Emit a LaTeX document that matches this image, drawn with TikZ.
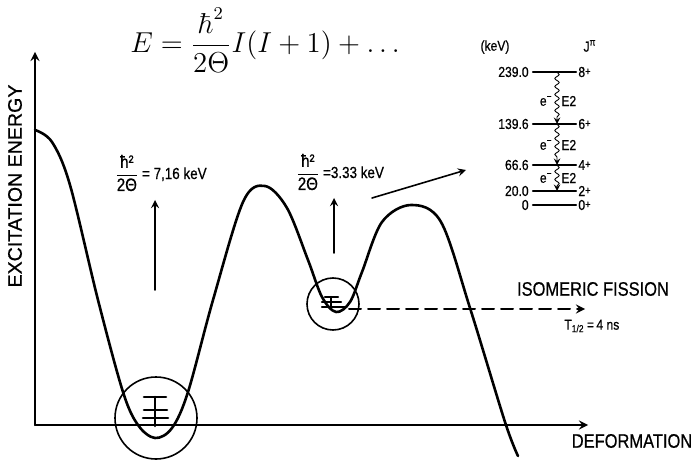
\documentclass[tikz,border=0pt]{standalone}
\usepackage{amsmath}
\usepackage{fontspec}
\newfontfamily\lettering[FakeStretch=0.84,FakeBold=0.6]{Liberation Sans}
\newfontfamily\letteringwide[FakeBold=0.6]{Liberation Sans}
\usetikzlibrary{decorations.pathmorphing}
\newcommand\plusup{\raisebox{0.9pt}{\fontsize{5.6}{6}\selectfont+}}

\begin{document}
\begin{tikzpicture}[x=0.5pt,y=-0.5pt,line cap=round,line join=round,>=stealth,
  every node/.style={inner sep=1pt},
  axislbl/.style={font=\lettering\fontsize{9.8}{11}\selectfont},
  keylbl/.style={font=\lettering\fontsize{8}{9}\selectfont},
  lvllbl/.style={font=\lettering\fontsize{7.2}{8}\selectfont,inner sep=0pt},
  wavy/.style={->,line width=0.45pt,decorate,decoration={snake,amplitude=1.1pt,segment length=4pt,post length=2.5pt}}]
  \useasboundingbox (0,0) rectangle (697,460);
  \def\lw{0.8pt}
  % axes
  \coordinate (O) at (35,425);
  \coordinate (ytop) at (35,52);
  \coordinate (xend) at (588,425);
  \draw[->,line width=1pt] (O) -- (ytop);
  \draw[->,line width=1pt] (O) -- (xend);
  \node[font=\letteringwide\fontsize{9.8}{11}\selectfont,rotate=90] (ylab) at (15,186) {EXCITATION ENERGY};
  \node[axislbl] (xlab) at (632,441) {DEFORMATION};
  \node[font=\fontsize{13.5}{15}\selectfont] (formula) at (265,40) {$E=\dfrac{\hbar^2}{2\Theta}I(I+1)+\ldots$};
  % barrier
  \draw[line width=1.3pt] plot[smooth,tension=0.55] coordinates {(35,130) (52,142) (70,185) (98,300) (123,392) (138,425) (155,438) (172,428) (188,392) (213,300) (243,202) (265,186) (287,208) (308,260) (322,297) (336,312) (350,302) (362,272) (382,222) (411,205) (441,222) (470,308) (505,422) (518,456)};
  % wells
  \draw[line width=\lw] (156,418) circle (41);
  \draw[line width=\lw] (333,304) circle (26);
  \draw[line width=1.3pt] (155,397) -- (155,426);
  \foreach \y/\a/\b in {397/144/166,410/144/167,418/143/168} {
    \draw[line width=1.3pt] (\a,\y) -- (\b,\y);
  }
  \draw[line width=1.2pt] (331,297) -- (331,309);
  \foreach \y/\a/\b in {297/325/338,302/322/341,307/322/346} {
    \draw[line width=1.2pt] (\a,\y) -- (\b,\y);
  }
  % moments of inertia
  \node[keylbl,anchor=west] (gsA) at (112,173) {$\dfrac{\mbox{\fontsize{9}{9}\selectfont ħ²}}{\mbox{\fontsize{9}{9}\selectfont 2Θ}}$\,= 7,16 keV};
  \node[keylbl,anchor=west] (isA) at (293,172) {$\dfrac{\mbox{\fontsize{9}{9}\selectfont ħ²}}{\mbox{\fontsize{9}{9}\selectfont 2Θ}}$\,=3.33 keV};
  \coordinate (gsB) at (155,290);
  \coordinate (gsT) at (155,200);
  \coordinate (isB) at (334,253);
  \coordinate (isT) at (334,198);
  \draw[->,line width=\lw] (gsB) -- (gsT);
  \draw[->,line width=\lw] (isB) -- (isT);
  \coordinate (bandS) at (372,198);
  \coordinate (bandT) at (466,170);
  \draw[->,line width=\lw] (bandS) -- (bandT);
  % isomeric fission
  \coordinate (fisS) at (349,309);
  \coordinate (fisT) at (585,309);
  \draw[->,line width=1pt,dash pattern=on 6pt off 3.5pt] (fisS) -- (fisT);
  \node[axislbl] (fislab) at (593,289) {ISOMERIC FISSION};
  \node[lvllbl,anchor=west] (halflife) at (564,326) {T\textsubscript{1/2}\,=\,4 ns};
  % rotational band
  \node[lvllbl] (kev) at (495,47) {(keV)};
  \node[lvllbl] (jpi) at (590,46) {J\textsuperscript{π}};
  \foreach \e/\j/\y/\n in {239.0/8/72/a,139.6/6/124/b,66.6/4/165/c,20.0/2/191/d,0/0/205/e} {
    \node[lvllbl,anchor=east] (E\n) at (529,\y) {\e};
    \node[lvllbl,anchor=west] (J\n) at (578,\y) {\j\plusup};
    \draw[line width=1.1pt] ([xshift=2pt]E\n.east) -- ([xshift=-1pt]J\n.west);
    \coordinate (L\n) at (557,\y);
  }
  \foreach \u/\v/\m in {a/b/101,b/c/145,c/d/178} {
    \draw[wavy] (L\u) -- (L\v);
    \node[lvllbl,anchor=east] at (553,\m) {e\textsuperscript{−}};
    \node[lvllbl,anchor=west] at (561,\m) {E2};
  }
\end{tikzpicture}
\end{document}
